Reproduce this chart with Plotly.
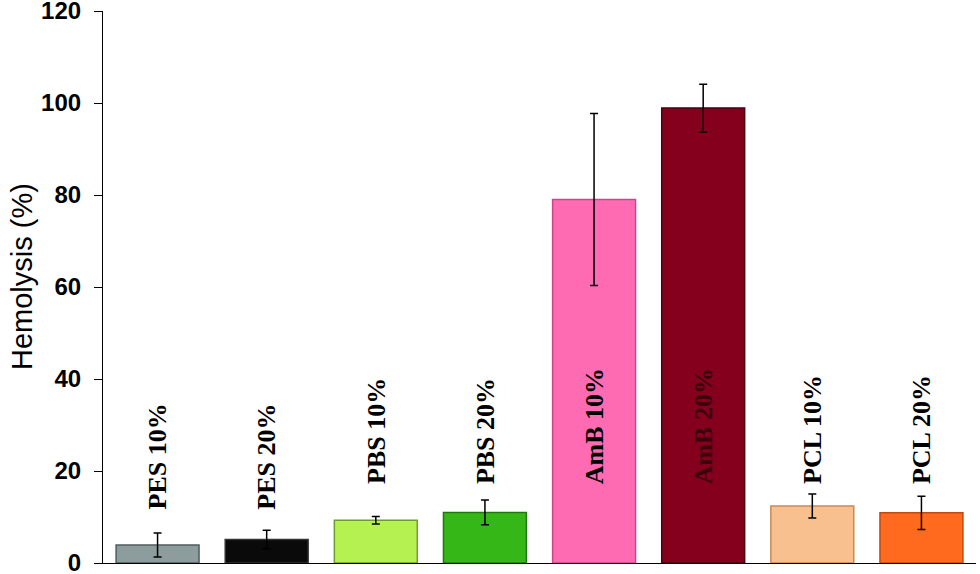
import plotly.graph_objects as go

categories = ["PES 10%", "PES 20%", "PBS 10%", "PBS 20%", "AmB 10%", "AmB 20%", "PCL 10%", "PCL 20%"]
hemolysis = [3.9, 5.1, 9.3, 11.0, 79.0, 98.9, 12.4, 10.9]
errors = [2.6, 2.0, 0.8, 2.7, 18.7, 5.2, 2.6, 3.6]
y_ticks = [0, 20, 40, 60, 80, 100, 120]

bar_colors = ["#8d9d9d", "#0a0a0a", "#b6f152", "#35b817", "#ff6bb2", "#84001d", "#f9c08f", "#ff6a1f"]
line_colors = ["#4f5c5c", "#333333", "#6f9c2a", "#1f7a0c", "#c9488a", "#4a0010", "#c88a5c", "#c04a10"]
label_colors = ["#000000"] * 5 + ["#3b000c"] + ["#000000"] * 2
label_y = [11.1, 11.1, 16.7, 16.7, 16.7, 16.7, 16.7, 16.7]

W, H = 980, 574
L, T = 103, 11
PW, PH = 873, 552
R, B = W - L - PW, H - T - PH

fig = go.Figure()
fig.add_trace(go.Bar(
    x=categories,
    y=hemolysis,
    width=0.76,
    marker=dict(color=bar_colors, line=dict(color=line_colors, width=1.5)),
    error_y=dict(type="data", array=errors, visible=True, color="#000000", thickness=1.5, width=4),
    showlegend=False,
    hoverinfo="skip",
))

for c, yy, col in zip(categories, label_y, label_colors):
    fig.add_annotation(
        x=c, y=yy, xref="x", yref="y", text="<b>%s</b>" % c, showarrow=False,
        textangle=-90, yanchor="bottom", xanchor="center",
        font=dict(family="Liberation Serif, Times New Roman, serif", size=26, color=col),
    )

title_px = (22, 277)
fig.add_annotation(
    x=(title_px[0] - L) / PW, y=(T + PH - title_px[1]) / PH, xref="x domain", yref="y domain",
    text="Hemolysis (%)", showarrow=False, textangle=-90, xanchor="center", yanchor="middle",
    font=dict(family="Liberation Sans, Arial, sans-serif", size=29, color="#000000"),
)

fig.update_layout(
    width=W, height=H,
    margin=dict(l=L, r=R, t=T, b=B, autoexpand=False),
    plot_bgcolor="white", paper_bgcolor="white",
    xaxis=dict(showticklabels=False, ticks="", showline=True, linecolor="#000000", linewidth=1.2,
               showgrid=False, zeroline=False, range=[-0.5, 7.5]),
    yaxis=dict(range=[0, 120], tickvals=y_ticks, ticks="outside", ticklen=8, tickcolor="#000000",
               showline=True, linecolor="#000000", linewidth=1.2, showgrid=False, zeroline=False,
               tickfont=dict(family="Liberation Sans, Arial, sans-serif", size=24, color="#000000", weight="bold"),
               ticklabelstandoff=8, ticklabeloverflow="allow"),
)

fig.write_html("out.html", config={"displayModeBar": False},
               post_script="document.body.style.margin='0';document.body.style.overflow='hidden';")
